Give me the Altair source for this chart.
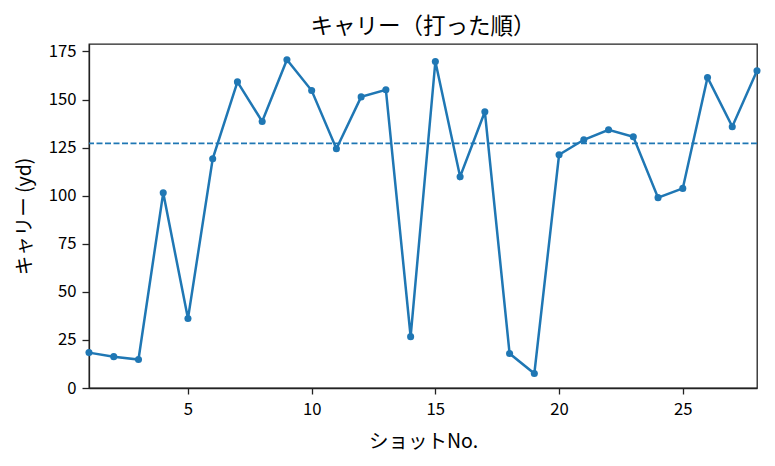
import altair as alt
import pandas as pd

shots = list(range(1, 29))
carry = [18.4, 16.3, 14.8, 101.5, 36.1, 119.2, 159.2, 138.6, 170.7, 154.7,
         124.4, 151.4, 155.1, 26.7, 169.8, 109.9, 143.7, 17.9, 7.5, 121.3,
         129.1, 134.3, 130.7, 99.0, 103.8, 161.5, 135.9, 165.0]
ref_line = [127.2]

x_ticks = [5, 10, 15, 20, 25]
y_ticks = [0, 25, 50, 75, 100, 125, 150, 175]

df = pd.DataFrame({"shot": shots, "carry": carry})
rdf = pd.DataFrame({"ref": ref_line})

FONT = "Noto Sans CJK JP"
BLUE = "#1f77b4"

x_enc = alt.X("shot:Q", scale=alt.Scale(domain=[1, 28], nice=False, zero=False),
              axis=alt.Axis(values=x_ticks, title="ショットNo.", grid=False))
y_enc = alt.Y("carry:Q", scale=alt.Scale(domain=[0, 178.9], nice=False),
              axis=alt.Axis(values=y_ticks, title="キャリー (yd)", grid=False))

line = alt.Chart(df).mark_line(color=BLUE, strokeWidth=2.5).encode(x=x_enc, y=y_enc)
pts = alt.Chart(df).mark_point(color=BLUE, filled=True, opacity=1, size=50).encode(x=x_enc, y=y_enc)
rule = alt.Chart(rdf).mark_rule(color=BLUE, strokeWidth=1.7, strokeDash=[6, 2.5]).encode(
    y=alt.Y("ref:Q", scale=alt.Scale(domain=[0, 178.9], nice=False)))

chart = (rule + line + pts).properties(
    width=668, height=344,
    title=alt.TitleParams("キャリー（打った順）", font=FONT, fontSize=22.5, fontWeight="normal",
                          color="#000", offset=5),
    autosize=alt.AutoSizeParams(type="none"),
    padding={"left": 81, "top": 36, "right": 10, "bottom": 70},
).configure_view(
    stroke="#222", strokeWidth=1.3
).configure_axis(
    labelFont=FONT, titleFont=FONT, labelFontSize=16.7, titleFontSize=19.5,
    labelColor="#000", titleColor="#000", titleFontWeight="normal",
    domainColor="#222", tickColor="#222", tickSize=6, domainWidth=1.3, tickWidth=1.3,
).configure_axisX(titlePadding=15, labelPadding=7).configure_axisY(titlePadding=14, labelPadding=6, tickSize=7)

chart.save("out.html", embed_options={"renderer": "svg", "actions": False})
